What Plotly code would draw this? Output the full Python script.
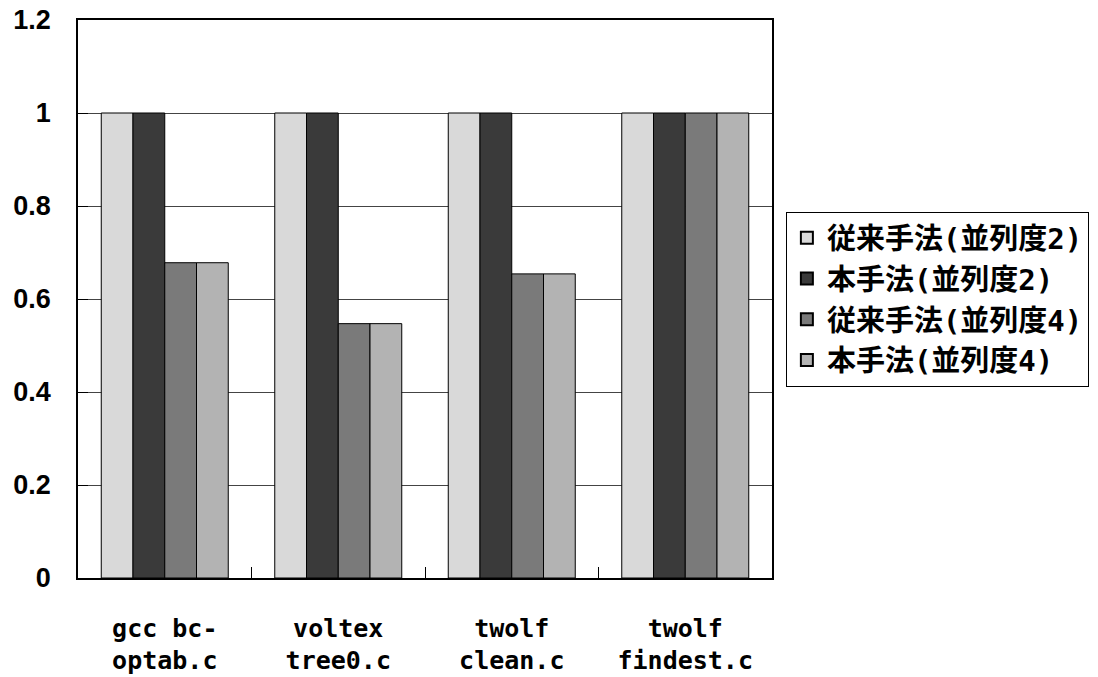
import plotly.graph_objects as go

categories = ["gcc bc-<br>optab.c", "voltex<br>tree0.c", "twolf<br>clean.c", "twolf<br>findest.c"]
series_names = ["従来手法(並列度2)", "本手法(並列度2)", "従来手法(並列度4)", "本手法(並列度4)"]
conv_p2 = [1.0, 1.0, 1.0, 1.0]
prop_p2 = [1.0, 1.0, 1.0, 1.0]
conv_p4 = [0.678, 0.547, 0.654, 1.0]
prop_p4 = [0.678, 0.547, 0.654, 1.0]
y_ticks = [0, 0.2, 0.4, 0.6, 0.8, 1, 1.2]
y_tick_text = ["0", "0.2", "0.4", "0.6", "0.8", "1", "1.2"]

colors = ["#d9d9d9", "#3a3a3a", "#7a7a7a", "#b3b3b3"]
series = [conv_p2, prop_p2, conv_p4, prop_p4]

MONO = "DejaVu Sans Mono, Noto Sans CJK JP, sans-serif"
SANS = "Liberation Sans, Arial, sans-serif"

fig = go.Figure()
for name, vals, col in zip(series_names, series, colors):
    fig.add_trace(go.Bar(
        x=categories, y=vals, name=name,
        marker=dict(color=col, line=dict(color="#000000", width=1)),
    ))

fig.update_layout(
    width=1098, height=677,
    margin=dict(l=78, r=326, t=20, b=99, autoexpand=False),
    paper_bgcolor="white", plot_bgcolor="white",
    barmode="group", bargap=0.268, bargroupgap=0,
    font=dict(family=MONO, color="black", size=22, weight="bold"),
    showlegend=True,
    legend=dict(
        x=1.02, xanchor="left", y=0.5, yanchor="middle",
        bordercolor="#000000", borderwidth=1, bgcolor="white",
        font=dict(family=MONO, size=29, weight="bold"),
        itemsizing="constant",
    ),
)

fig.update_xaxes(
    automargin=False,
    showgrid=False, showline=True, linecolor="#000000", linewidth=1.5, mirror=True,
    ticks="inside", ticklen=11, tickcolor="#000000", tickson="boundaries",
    tickfont=dict(family=MONO, size=25, weight="bold"),
    ticklabelstandoff=27,
)
fig.update_yaxes(
    automargin=False,
    range=[0, 1.2], tickvals=y_ticks, ticktext=y_tick_text,
    showgrid=True, gridcolor="#444444", gridwidth=1.2,
    showline=True, linecolor="#000000", linewidth=1.5, mirror=True,
    ticks="inside", ticklen=10, tickcolor="#000000",
    tickfont=dict(family=SANS, size=27, weight="bold"),
    ticklabelstandoff=20, zeroline=False,
)

fig.write_html("out.html")
